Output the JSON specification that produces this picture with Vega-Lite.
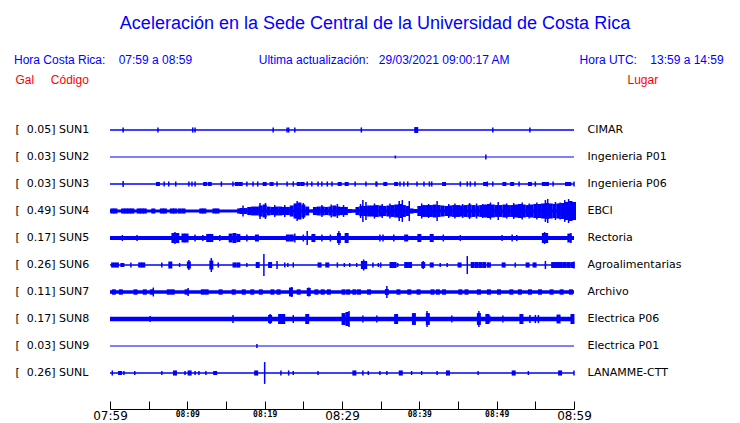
{
"$schema": "https://vega.github.io/schema/vega-lite/v6.json",
"width": 464, "height": 270,
"autosize": {"type": "none"},
"padding": {"left": 110, "top": 116.5, "right": 166, "bottom": 36.5},
"background": "white",
"title": {
  "text": "Aceleración en la Sede Central de la Universidad de Costa Rica",
  "subtitle": "Hora Costa Rica:\u00a0\u00a0\u00a0\u00a007:59 a 08:59\u00a0\u00a0\u00a0\u00a0\u00a0\u00a0\u00a0\u00a0\u00a0\u00a0\u00a0\u00a0\u00a0\u00a0\u00a0\u00a0\u00a0\u00a0\u00a0\u00a0Ultima actualización:\u00a0\u00a0\u00a029/03/2021 09:00:17 AM\u00a0\u00a0\u00a0\u00a0\u00a0\u00a0\u00a0\u00a0\u00a0\u00a0\u00a0\u00a0\u00a0\u00a0\u00a0\u00a0\u00a0\u00a0\u00a0\u00a0\u00a0Hora UTC:\u00a0\u00a0\u00a0\u00a013:59 a 14:59\u00a0\u2800",
  "anchor": "middle", "frame": "group", "dx": 33, "offset": 8,
  "color": "#0000ff", "font": "Liberation Sans", "fontSize": 18, "fontWeight": "normal",
  "subtitleColor": "#0000ff", "subtitleFont": "Liberation Sans", "subtitleFontSize": 12, "subtitlePadding": 22
},
"datasets": {
  "st": [
    {"s":"SUN1","gal":0.05,"lugar":"CIMAR","n":0.06},
    {"s":"SUN2","gal":0.03,"lugar":"Ingenieria P01","n":0.04},
    {"s":"SUN3","gal":0.03,"lugar":"Ingenieria P06","n":0.06},
    {"s":"SUN4","gal":0.49,"lugar":"EBCI","n":0.11},
    {"s":"SUN5","gal":0.17,"lugar":"Rectoria","n":0.15},
    {"s":"SUN6","gal":0.26,"lugar":"Agroalimentarias","n":0.06},
    {"s":"SUN7","gal":0.11,"lugar":"Archivo","n":0.13},
    {"s":"SUN8","gal":0.17,"lugar":"Electrica P06","n":0.17},
    {"s":"SUN9","gal":0.03,"lugar":"Electrica P01","n":0.04},
    {"s":"SUNL","gal":0.26,"lugar":"LANAMME-CTT","n":0.06}
  ],
  "env": [
    {"s":"SUN1","t":39.6,"a":0.22},
    {"s":"SUN3","t":6.2,"a":0.15},{"s":"SUN3","t":12.3,"a":0.15},{"s":"SUN3","t":12.9,"a":0.15},{"s":"SUN3","t":16.4,"a":0.15},{"s":"SUN3","t":16.9,"a":0.15},{"s":"SUN3","t":20.0,"a":0.15},{"s":"SUN3","t":20.9,"a":0.15},{"s":"SUN3","t":24.4,"a":0.15},{"s":"SUN3","t":24.9,"a":0.15},{"s":"SUN3","t":29.7,"a":0.15},{"s":"SUN3","t":30.6,"a":0.15},{"s":"SUN3","t":35.6,"a":0.15},{"s":"SUN3","t":37.0,"a":0.15},{"s":"SUN3","t":43.2,"a":0.15},{"s":"SUN3","t":48.5,"a":0.15},{"s":"SUN3","t":51.0,"a":0.15},{"s":"SUN3","t":52.0,"a":0.15},{"s":"SUN3","t":54.3,"a":0.15},{"s":"SUN3","t":56.1,"a":0.15},{"s":"SUN3","t":56.5,"a":0.15},{"s":"SUN3","t":59.1,"a":0.15},{"s":"SUN3","t":59.4,"a":0.15},
    {"s":"SUN4","t":0.3,"a":0.19},{"s":"SUN4","t":0.7,"a":0.19},{"s":"SUN4","t":1.7,"a":0.19},{"s":"SUN4","t":2.1,"a":0.19},{"s":"SUN4","t":2.5,"a":0.19},{"s":"SUN4","t":2.9,"a":0.19},{"s":"SUN4","t":3.7,"a":0.19},{"s":"SUN4","t":4.1,"a":0.19},{"s":"SUN4","t":4.5,"a":0.19},{"s":"SUN4","t":5.6,"a":0.19},{"s":"SUN4","t":6.7,"a":0.19},{"s":"SUN4","t":7.1,"a":0.19},{"s":"SUN4","t":8.0,"a":0.19},{"s":"SUN4","t":8.4,"a":0.19},{"s":"SUN4","t":9.0,"a":0.19},{"s":"SUN4","t":9.5,"a":0.19},{"s":"SUN4","t":11.8,"a":0.19},{"s":"SUN4","t":12.2,"a":0.19},{"s":"SUN4","t":13.5,"a":0.19},{"s":"SUN4","t":13.9,"a":0.19},{"s":"SUN4","t":16.7,"a":0.19},
    {"s":"SUN4","t":17,"a":0.22},{"s":"SUN4","t":17.5,"a":0.22},{"s":"SUN4","t":18,"a":0.3},{"s":"SUN4","t":18.5,"a":0.33},{"s":"SUN4","t":19,"a":0.33},{"s":"SUN4","t":19.5,"a":0.41},{"s":"SUN4","t":20,"a":0.48},{"s":"SUN4","t":20.5,"a":0.33},{"s":"SUN4","t":21,"a":0.3},{"s":"SUN4","t":21.5,"a":0.33},{"s":"SUN4","t":22,"a":0.33},{"s":"SUN4","t":22.5,"a":0.3},{"s":"SUN4","t":23,"a":0.3},{"s":"SUN4","t":23.5,"a":0.41},{"s":"SUN4","t":24,"a":0.56},{"s":"SUN4","t":24.5,"a":0.63},{"s":"SUN4","t":25,"a":0.48},{"s":"SUN4","t":25.5,"a":0.33},{"s":"SUN4","t":26,"a":0.11},{"s":"SUN4","t":26.5,"a":0.3},{"s":"SUN4","t":27,"a":0.33},{"s":"SUN4","t":27.5,"a":0.33},{"s":"SUN4","t":28,"a":0.3},{"s":"SUN4","t":28.5,"a":0.33},{"s":"SUN4","t":29,"a":0.41},{"s":"SUN4","t":29.5,"a":0.33},{"s":"SUN4","t":30,"a":0.3},{"s":"SUN4","t":30.5,"a":0.3},{"s":"SUN4","t":31,"a":0.15},{"s":"SUN4","t":31.5,"a":0.11},{"s":"SUN4","t":32,"a":0.3},{"s":"SUN4","t":32.5,"a":0.37},{"s":"SUN4","t":33,"a":0.37},{"s":"SUN4","t":33.5,"a":0.41},{"s":"SUN4","t":34,"a":0.41},{"s":"SUN4","t":34.5,"a":0.44},{"s":"SUN4","t":35,"a":0.41},{"s":"SUN4","t":35.5,"a":0.37},{"s":"SUN4","t":36,"a":0.41},{"s":"SUN4","t":36.5,"a":0.44},{"s":"SUN4","t":37,"a":0.48},{"s":"SUN4","t":37.5,"a":0.52},{"s":"SUN4","t":38,"a":0.44},{"s":"SUN4","t":38.5,"a":0.37},{"s":"SUN4","t":39,"a":0.19},{"s":"SUN4","t":39.5,"a":0.15},{"s":"SUN4","t":40,"a":0.37},{"s":"SUN4","t":40.5,"a":0.44},{"s":"SUN4","t":41,"a":0.44},{"s":"SUN4","t":41.5,"a":0.44},{"s":"SUN4","t":42,"a":0.48},{"s":"SUN4","t":42.5,"a":0.44},{"s":"SUN4","t":43,"a":0.41},{"s":"SUN4","t":43.5,"a":0.37},{"s":"SUN4","t":44,"a":0.41},{"s":"SUN4","t":44.5,"a":0.44},{"s":"SUN4","t":45,"a":0.44},{"s":"SUN4","t":45.5,"a":0.41},{"s":"SUN4","t":46,"a":0.44},{"s":"SUN4","t":46.5,"a":0.48},{"s":"SUN4","t":47,"a":0.44},{"s":"SUN4","t":47.5,"a":0.41},{"s":"SUN4","t":48,"a":0.44},{"s":"SUN4","t":48.5,"a":0.48},{"s":"SUN4","t":49,"a":0.52},{"s":"SUN4","t":49.5,"a":0.48},{"s":"SUN4","t":50,"a":0.44},{"s":"SUN4","t":50.5,"a":0.44},{"s":"SUN4","t":51,"a":0.48},{"s":"SUN4","t":51.5,"a":0.44},{"s":"SUN4","t":52,"a":0.44},{"s":"SUN4","t":52.5,"a":0.48},{"s":"SUN4","t":53,"a":0.52},{"s":"SUN4","t":53.5,"a":0.48},{"s":"SUN4","t":54,"a":0.44},{"s":"SUN4","t":54.5,"a":0.48},{"s":"SUN4","t":55,"a":0.52},{"s":"SUN4","t":55.5,"a":0.52},{"s":"SUN4","t":56,"a":0.56},{"s":"SUN4","t":56.5,"a":0.59},{"s":"SUN4","t":57,"a":0.56},{"s":"SUN4","t":57.5,"a":0.52},{"s":"SUN4","t":58,"a":0.56},{"s":"SUN4","t":58.5,"a":0.59},{"s":"SUN4","t":59,"a":0.67},{"s":"SUN4","t":59.5,"a":0.74},{"s":"SUN4","t":60,"a":0.67},
    {"s":"SUN5","t":8.2,"a":0.37},{"s":"SUN5","t":8.7,"a":0.37},{"s":"SUN5","t":9.5,"a":0.33},{"s":"SUN5","t":9.9,"a":0.33},{"s":"SUN5","t":12.7,"a":0.3},{"s":"SUN5","t":13.1,"a":0.3},{"s":"SUN5","t":15.6,"a":0.33},{"s":"SUN5","t":16.1,"a":0.37},{"s":"SUN5","t":16.6,"a":0.3},{"s":"SUN5","t":19.0,"a":0.26},{"s":"SUN5","t":23.0,"a":0.26},{"s":"SUN5","t":23.5,"a":0.26},{"s":"SUN5","t":26.3,"a":0.3},{"s":"SUN5","t":29.6,"a":0.37},{"s":"SUN5","t":30.6,"a":0.37},{"s":"SUN5","t":38.3,"a":0.26},{"s":"SUN5","t":40.0,"a":0.3},{"s":"SUN5","t":41.6,"a":0.3},{"s":"SUN5","t":56.1,"a":0.37},{"s":"SUN5","t":56.4,"a":0.37},{"s":"SUN5","t":59.4,"a":0.33},
    {"s":"SUN6","t":0.4,"a":0.19},{"s":"SUN6","t":0.9,"a":0.19},{"s":"SUN6","t":1.6,"a":0.15},{"s":"SUN6","t":3.9,"a":0.19},{"s":"SUN6","t":4.3,"a":0.19},{"s":"SUN6","t":7.8,"a":0.26},{"s":"SUN6","t":10.2,"a":0.26},{"s":"SUN6","t":13.1,"a":0.33},{"s":"SUN6","t":16.1,"a":0.19},{"s":"SUN6","t":16.6,"a":0.19},{"s":"SUN6","t":19.1,"a":0.22},{"s":"SUN6","t":20.7,"a":0.22},{"s":"SUN6","t":27.1,"a":0.19},{"s":"SUN6","t":28.1,"a":0.19},{"s":"SUN6","t":32.7,"a":0.3},{"s":"SUN6","t":33.0,"a":0.3},{"s":"SUN6","t":36.4,"a":0.22},{"s":"SUN6","t":36.8,"a":0.22},{"s":"SUN6","t":38.3,"a":0.22},{"s":"SUN6","t":38.8,"a":0.22},{"s":"SUN6","t":40.5,"a":0.22},{"s":"SUN6","t":41.6,"a":0.19},{"s":"SUN6","t":45.2,"a":0.19},{"s":"SUN6","t":46.9,"a":0.22},{"s":"SUN6","t":47.4,"a":0.22},{"s":"SUN6","t":47.9,"a":0.22},{"s":"SUN6","t":48.4,"a":0.22},{"s":"SUN6","t":49.0,"a":0.19},{"s":"SUN6","t":50.9,"a":0.19},{"s":"SUN6","t":54.0,"a":0.19},{"s":"SUN6","t":54.9,"a":0.19},{"s":"SUN6","t":57.3,"a":0.22},{"s":"SUN6","t":57.8,"a":0.22},{"s":"SUN6","t":58.3,"a":0.22},{"s":"SUN6","t":58.8,"a":0.22},{"s":"SUN6","t":59.3,"a":0.22},{"s":"SUN6","t":59.8,"a":0.22},
    {"s":"SUN7","t":0.5,"a":0.2},{"s":"SUN7","t":1.4,"a":0.2},{"s":"SUN7","t":3.3,"a":0.2},{"s":"SUN7","t":4.5,"a":0.2},{"s":"SUN7","t":5.4,"a":0.2},{"s":"SUN7","t":7.6,"a":0.2},{"s":"SUN7","t":8.1,"a":0.2},{"s":"SUN7","t":9.9,"a":0.2},{"s":"SUN7","t":12.0,"a":0.2},{"s":"SUN7","t":12.5,"a":0.2},{"s":"SUN7","t":14.3,"a":0.2},{"s":"SUN7","t":16.0,"a":0.2},{"s":"SUN7","t":17.3,"a":0.2},{"s":"SUN7","t":18.4,"a":0.2},{"s":"SUN7","t":19.5,"a":0.2},{"s":"SUN7","t":21.0,"a":0.2},{"s":"SUN7","t":21.8,"a":0.2},{"s":"SUN7","t":23.4,"a":0.33},{"s":"SUN7","t":24.4,"a":0.2},{"s":"SUN7","t":25.7,"a":0.3},{"s":"SUN7","t":26.7,"a":0.2},{"s":"SUN7","t":27.5,"a":0.2},{"s":"SUN7","t":28.3,"a":0.2},{"s":"SUN7","t":30.2,"a":0.2},{"s":"SUN7","t":30.8,"a":0.2},{"s":"SUN7","t":31.6,"a":0.2},{"s":"SUN7","t":32.2,"a":0.2},{"s":"SUN7","t":33.5,"a":0.2},{"s":"SUN7","t":35.8,"a":0.22},{"s":"SUN7","t":37.3,"a":0.2},{"s":"SUN7","t":38.7,"a":0.2},{"s":"SUN7","t":39.9,"a":0.2},{"s":"SUN7","t":41.7,"a":0.2},{"s":"SUN7","t":42.4,"a":0.2},{"s":"SUN7","t":43.2,"a":0.2},{"s":"SUN7","t":45.3,"a":0.2},{"s":"SUN7","t":46.1,"a":0.2},{"s":"SUN7","t":47.7,"a":0.2},{"s":"SUN7","t":49.0,"a":0.2},{"s":"SUN7","t":50.3,"a":0.2},{"s":"SUN7","t":51.9,"a":0.2},{"s":"SUN7","t":53.0,"a":0.2},{"s":"SUN7","t":54.3,"a":0.2},{"s":"SUN7","t":55.6,"a":0.2},{"s":"SUN7","t":57.1,"a":0.2},{"s":"SUN7","t":58.4,"a":0.2},{"s":"SUN7","t":59.6,"a":0.2},
    {"s":"SUN8","t":20.7,"a":0.3},{"s":"SUN8","t":22.0,"a":0.37},{"s":"SUN8","t":22.4,"a":0.37},{"s":"SUN8","t":25.5,"a":0.37},{"s":"SUN8","t":30.2,"a":0.44},{"s":"SUN8","t":30.7,"a":0.52},{"s":"SUN8","t":37.0,"a":0.37},{"s":"SUN8","t":39.3,"a":0.44},{"s":"SUN8","t":41.1,"a":0.44},{"s":"SUN8","t":47.7,"a":0.44},{"s":"SUN8","t":48.8,"a":0.37},{"s":"SUN8","t":53.2,"a":0.37},{"s":"SUN8","t":58.0,"a":0.33},{"s":"SUN8","t":59.8,"a":0.37},
    {"s":"SUNL","t":1.3,"a":0.15},{"s":"SUNL","t":8.4,"a":0.19},{"s":"SUNL","t":10.3,"a":0.19},{"s":"SUNL","t":13.6,"a":0.15},{"s":"SUNL","t":18.9,"a":0.19},{"s":"SUNL","t":31.6,"a":0.19},{"s":"SUNL","t":37.6,"a":0.19},{"s":"SUNL","t":43.7,"a":0.19},{"s":"SUNL","t":52.2,"a":0.19},{"s":"SUNL","t":58.2,"a":0.19}
  ],
  "spk": [
    {"s":"SUN1","t":1.7,"a":0.19},{"s":"SUN1","t":6.2,"a":0.19},{"s":"SUN1","t":10.7,"a":0.19},{"s":"SUN1","t":11.0,"a":0.19},{"s":"SUN1","t":21.1,"a":0.19},{"s":"SUN1","t":22.9,"a":0.19},{"s":"SUN1","t":23.1,"a":0.19},{"s":"SUN1","t":23.9,"a":0.19},{"s":"SUN1","t":32.5,"a":0.19},{"s":"SUN1","t":49.5,"a":0.19},{"s":"SUN1","t":54.3,"a":0.19},
    {"s":"SUN2","t":36.9,"a":0.11},{"s":"SUN2","t":48.6,"a":0.19},
    {"s":"SUN3","t":1.7,"a":0.22},{"s":"SUN3","t":7.0,"a":0.19},{"s":"SUN3","t":7.6,"a":0.19},{"s":"SUN3","t":8.5,"a":0.19},{"s":"SUN3","t":10.2,"a":0.19},{"s":"SUN3","t":10.6,"a":0.19},{"s":"SUN3","t":11.0,"a":0.19},{"s":"SUN3","t":14.4,"a":0.19},{"s":"SUN3","t":15.9,"a":0.19},{"s":"SUN3","t":17.7,"a":0.19},{"s":"SUN3","t":18.5,"a":0.19},{"s":"SUN3","t":19.1,"a":0.19},{"s":"SUN3","t":21.6,"a":0.19},{"s":"SUN3","t":22.9,"a":0.19},{"s":"SUN3","t":23.7,"a":0.19},{"s":"SUN3","t":25.5,"a":0.19},{"s":"SUN3","t":26.1,"a":0.19},{"s":"SUN3","t":26.9,"a":0.19},{"s":"SUN3","t":27.4,"a":0.19},{"s":"SUN3","t":28.1,"a":0.19},{"s":"SUN3","t":28.7,"a":0.19},{"s":"SUN3","t":31.7,"a":0.19},{"s":"SUN3","t":33.1,"a":0.19},{"s":"SUN3","t":34.4,"a":0.19},{"s":"SUN3","t":34.5,"a":0.19},{"s":"SUN3","t":37.5,"a":0.19},{"s":"SUN3","t":38.0,"a":0.19},{"s":"SUN3","t":38.5,"a":0.19},{"s":"SUN3","t":39.7,"a":0.19},{"s":"SUN3","t":40.6,"a":0.19},{"s":"SUN3","t":41.3,"a":0.19},{"s":"SUN3","t":41.6,"a":0.19},{"s":"SUN3","t":45.3,"a":0.19},{"s":"SUN3","t":46.2,"a":0.19},{"s":"SUN3","t":46.6,"a":0.19},{"s":"SUN3","t":47.2,"a":0.19},{"s":"SUN3","t":48.8,"a":0.19},{"s":"SUN3","t":49.5,"a":0.19},{"s":"SUN3","t":52.9,"a":0.19},{"s":"SUN3","t":55.0,"a":0.19},{"s":"SUN3","t":57.3,"a":0.19},{"s":"SUN3","t":60.0,"a":0.19},
    {"s":"SUN4","t":17.2,"a":0.41},{"s":"SUN4","t":19.4,"a":0.59},{"s":"SUN4","t":20.1,"a":0.59},{"s":"SUN4","t":21.3,"a":0.44},{"s":"SUN4","t":22.6,"a":0.44},{"s":"SUN4","t":24.2,"a":0.74},{"s":"SUN4","t":25.0,"a":0.59},{"s":"SUN4","t":27.4,"a":0.44},{"s":"SUN4","t":28.6,"a":0.48},{"s":"SUN4","t":29.4,"a":0.52},{"s":"SUN4","t":30.2,"a":0.44},{"s":"SUN4","t":32.4,"a":0.52},{"s":"SUN4","t":32.7,"a":0.81},{"s":"SUN4","t":33.1,"a":0.67},{"s":"SUN4","t":34.2,"a":0.56},{"s":"SUN4","t":35.2,"a":0.52},{"s":"SUN4","t":36.2,"a":0.56},{"s":"SUN4","t":37.4,"a":0.74},{"s":"SUN4","t":37.8,"a":0.81},{"s":"SUN4","t":38.7,"a":0.74},{"s":"SUN4","t":40.3,"a":0.56},{"s":"SUN4","t":41.2,"a":0.52},{"s":"SUN4","t":42.3,"a":0.74},{"s":"SUN4","t":43.8,"a":0.52},{"s":"SUN4","t":44.6,"a":0.56},{"s":"SUN4","t":45.6,"a":0.52},{"s":"SUN4","t":46.5,"a":0.59},{"s":"SUN4","t":47.4,"a":0.56},{"s":"SUN4","t":48.2,"a":0.52},{"s":"SUN4","t":49.2,"a":0.63},{"s":"SUN4","t":50.2,"a":0.67},{"s":"SUN4","t":51.3,"a":0.56},{"s":"SUN4","t":52.2,"a":0.59},{"s":"SUN4","t":53.3,"a":0.63},{"s":"SUN4","t":54.2,"a":0.56},{"s":"SUN4","t":55.2,"a":0.63},{"s":"SUN4","t":56.3,"a":0.81},{"s":"SUN4","t":56.6,"a":0.89},{"s":"SUN4","t":57.6,"a":0.67},{"s":"SUN4","t":58.2,"a":0.63},{"s":"SUN4","t":58.8,"a":0.81},{"s":"SUN4","t":59.3,"a":0.89},{"s":"SUN4","t":59.7,"a":0.74},
    {"s":"SUN5","t":1.6,"a":0.22},{"s":"SUN5","t":3.5,"a":0.22},{"s":"SUN5","t":8.4,"a":0.44},{"s":"SUN5","t":11.0,"a":0.26},{"s":"SUN5","t":12.0,"a":0.22},{"s":"SUN5","t":14.2,"a":0.22},{"s":"SUN5","t":17.7,"a":0.26},{"s":"SUN5","t":23.9,"a":0.33},{"s":"SUN5","t":25.0,"a":0.26},{"s":"SUN5","t":25.5,"a":0.52},{"s":"SUN5","t":27.4,"a":0.26},{"s":"SUN5","t":28.5,"a":0.26},{"s":"SUN5","t":29.6,"a":0.52},{"s":"SUN5","t":34.9,"a":0.26},{"s":"SUN5","t":35.3,"a":0.26},{"s":"SUN5","t":36.7,"a":0.26},{"s":"SUN5","t":43.1,"a":0.26},{"s":"SUN5","t":45.3,"a":0.22},{"s":"SUN5","t":50.7,"a":0.22},{"s":"SUN5","t":52.0,"a":0.26},{"s":"SUN5","t":52.6,"a":0.22},{"s":"SUN5","t":56.2,"a":0.44},{"s":"SUN5","t":59.6,"a":0.37},
    {"s":"SUN6","t":2.7,"a":0.19},{"s":"SUN6","t":6.7,"a":0.19},{"s":"SUN6","t":9.0,"a":0.15},{"s":"SUN6","t":10.2,"a":0.37},{"s":"SUN6","t":13.1,"a":0.52},{"s":"SUN6","t":14.0,"a":0.19},{"s":"SUN6","t":17.7,"a":0.15},{"s":"SUN6","t":19.9,"a":0.81},{"s":"SUN6","t":21.6,"a":0.3},{"s":"SUN6","t":22.6,"a":0.19},{"s":"SUN6","t":23.0,"a":0.15},{"s":"SUN6","t":23.7,"a":0.19},{"s":"SUN6","t":29.4,"a":0.19},{"s":"SUN6","t":30.3,"a":0.15},{"s":"SUN6","t":31.0,"a":0.15},{"s":"SUN6","t":31.9,"a":0.15},{"s":"SUN6","t":32.8,"a":0.41},{"s":"SUN6","t":34.0,"a":0.19},{"s":"SUN6","t":34.7,"a":0.15},{"s":"SUN6","t":35.0,"a":0.19},{"s":"SUN6","t":37.2,"a":0.15},{"s":"SUN6","t":40.5,"a":0.3},{"s":"SUN6","t":42.7,"a":0.15},{"s":"SUN6","t":43.6,"a":0.15},{"s":"SUN6","t":46.2,"a":0.67},{"s":"SUN6","t":48.9,"a":0.19},{"s":"SUN6","t":52.4,"a":0.19},{"s":"SUN6","t":56.3,"a":0.3},{"s":"SUN6","t":60.0,"a":0.26},
    {"s":"SUN7","t":5.6,"a":0.33},{"s":"SUN7","t":10.1,"a":0.3},{"s":"SUN7","t":23.5,"a":0.37},{"s":"SUN7","t":25.7,"a":0.33},{"s":"SUN7","t":35.8,"a":0.44},
    {"s":"SUN8","t":5.2,"a":0.22},{"s":"SUN8","t":15.9,"a":0.3},{"s":"SUN8","t":20.7,"a":0.37},{"s":"SUN8","t":23.7,"a":0.3},{"s":"SUN8","t":30.9,"a":0.59},{"s":"SUN8","t":32.7,"a":0.26},{"s":"SUN8","t":34.5,"a":0.26},{"s":"SUN8","t":41.0,"a":0.59},{"s":"SUN8","t":44.2,"a":0.26},{"s":"SUN8","t":47.7,"a":0.59},{"s":"SUN8","t":49.1,"a":0.26},{"s":"SUN8","t":50.8,"a":0.26},{"s":"SUN8","t":54.3,"a":0.3},{"s":"SUN8","t":55.0,"a":0.3},{"s":"SUN8","t":55.4,"a":0.3},
    {"s":"SUN9","t":19.0,"a":0.15},
    {"s":"SUNL","t":0.3,"a":0.19},{"s":"SUNL","t":1.8,"a":0.15},{"s":"SUNL","t":3.2,"a":0.15},{"s":"SUNL","t":6.7,"a":0.15},{"s":"SUNL","t":9.7,"a":0.15},{"s":"SUNL","t":11.0,"a":0.15},{"s":"SUNL","t":11.5,"a":0.15},{"s":"SUNL","t":12.4,"a":0.15},{"s":"SUNL","t":20.0,"a":0.81},{"s":"SUNL","t":22.1,"a":0.19},{"s":"SUNL","t":23.1,"a":0.19},{"s":"SUNL","t":23.7,"a":0.15},{"s":"SUNL","t":26.9,"a":0.15},{"s":"SUNL","t":32.7,"a":0.19},{"s":"SUNL","t":33.4,"a":0.15},{"s":"SUNL","t":34.9,"a":0.15},{"s":"SUNL","t":35.8,"a":0.15},{"s":"SUNL","t":39.0,"a":0.15},{"s":"SUNL","t":40.3,"a":0.15},{"s":"SUNL","t":42.3,"a":0.15},{"s":"SUNL","t":47.6,"a":0.15},{"s":"SUNL","t":54.1,"a":0.15},{"s":"SUNL","t":60.0,"a":0.19}
  ]
},
"layer": [
  {
    "data": {"name": "st"},
    "mark": {"type": "rule", "color": "#0000ff"},
    "encoding": {
      "x": {"datum": 0, "type": "quantitative", "scale": {"domain": [0, 60], "nice": false, "zero": false}, "axis": null},
      "x2": {"datum": 60},
      "y": {"field": "s", "type": "nominal", "sort": null,
        "scale": {"type": "band", "domain": ["SUN1","SUN2","SUN3","SUN4","SUN5","SUN6","SUN7","SUN8","SUN9","SUNL"], "paddingInner": 0, "paddingOuter": 0},
        "axis": {"orient": "left", "title": "Gal\u00a0\u00a0\u00a0\u00a0\u00a0Código", "titleAngle": 0, "titleAlign": "left", "titleBaseline": "alphabetic", "titleX": -95, "titleY": -33, "titleColor": "#ff0000", "titleFont": "Liberation Sans", "titleFontSize": 12, "titleFontWeight": "normal",
          "ticks": false, "domain": false, "labelAlign": "left", "labelPadding": 95, "labelFont": "DejaVu Sans", "labelFontSize": 11, "labelColor": "black",
          "labelExpr": "['[\u00a0\u00a00.05] SUN1','[\u00a0\u00a00.03] SUN2','[\u00a0\u00a00.03] SUN3','[\u00a0\u00a00.49] SUN4','[\u00a0\u00a00.17] SUN5','[\u00a0\u00a00.26] SUN6','[\u00a0\u00a00.11] SUN7','[\u00a0\u00a00.17] SUN8','[\u00a0\u00a00.03] SUN9','[\u00a0\u00a00.26] SUNL'][indexof(['SUN1','SUN2','SUN3','SUN4','SUN5','SUN6','SUN7','SUN8','SUN9','SUNL'], datum.value)]"}},
      "strokeWidth": {"field": "n", "type": "quantitative", "scale": {"domain": [0, 1], "range": [0, 27]}, "legend": null}
    }
  },
  {
    "data": {"name": "env"},
    "mark": {"type": "tick", "color": "#0000ff", "thickness": 4, "opacity": 1},
    "encoding": {
      "x": {"field": "t", "type": "quantitative", "scale": {"domain": [0, 60], "nice": false, "zero": false},
        "axis": {"orient": "bottom", "offset": 22.5, "values": [0,5,10,15,20,25,30,35,40,45,50,55,60], "title": null, "grid": false,
          "tickSize": -8, "tickColor": "black", "tickWidth": 1, "domainColor": "black", "domainWidth": 1, "labelColor": "black",
          "labelPadding": 9, "labelFlush": false, "labelOverlap": false, "labelBound": false, "labelBaseline": "top",
          "labelExpr": "datum.value % 10 ? '' : timeFormat(datetime(2021, 2, 29, 7, 59 + datum.value), '%H:%M')",
          "labelFontSize": {"condition": {"test": "datum.value % 30 == 0", "value": 12}, "value": 8},
          "labelFont": {"condition": {"test": "datum.value % 30 == 0", "value": "DejaVu Sans"}, "value": "DejaVu Sans Mono"},
          "labelFontWeight": {"condition": {"test": "datum.value % 30 == 0", "value": "normal"}, "value": "bold"}}},
      "y": {"field": "s", "type": "nominal", "sort": null,
        "scale": {"type": "band", "domain": ["SUN1","SUN2","SUN3","SUN4","SUN5","SUN6","SUN7","SUN8","SUN9","SUNL"], "paddingInner": 0, "paddingOuter": 0},
        "axis": {"orient": "right", "title": "Lugar", "titleAngle": 0, "titleAlign": "left", "titleBaseline": "alphabetic", "titleX": 53, "titleY": -33, "titleColor": "#ff0000", "titleFont": "Liberation Sans", "titleFontSize": 12, "titleFontWeight": "normal",
          "ticks": false, "domain": false, "labelAlign": "left", "labelPadding": 13, "labelFont": "DejaVu Sans", "labelFontSize": 11, "labelColor": "black",
          "labelExpr": "['CIMAR','Ingenieria P01','Ingenieria P06','EBCI','Rectoria','Agroalimentarias','Archivo','Electrica P06','Electrica P01','LANAMME-CTT'][indexof(['SUN1','SUN2','SUN3','SUN4','SUN5','SUN6','SUN7','SUN8','SUN9','SUNL'], datum.value)]"}},
      "size": {"field": "a", "type": "quantitative", "scale": {"domain": [0, 1], "range": [0, 27]}, "legend": null}
    }
  },
  {
    "data": {"name": "spk"},
    "mark": {"type": "tick", "color": "#0000ff", "thickness": 1.5, "opacity": 1},
    "encoding": {
      "x": {"field": "t", "type": "quantitative", "axis": null},
      "y": {"field": "s", "type": "nominal", "sort": null, "axis": null},
      "size": {"field": "a", "type": "quantitative", "legend": null}
    }
  }
],
"resolve": {"axis": {"x": "independent", "y": "independent"}},
"config": {"view": {"stroke": null}, "axis": {"grid": false}}
}
